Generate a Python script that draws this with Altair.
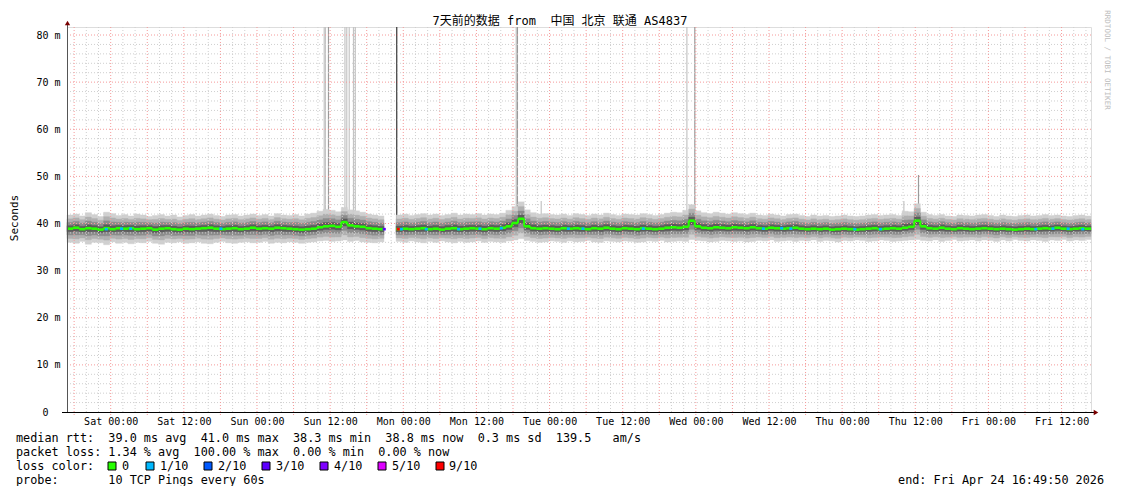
import altair as alt
import pandas as pd

# ---------------- data ----------------
START = pd.Timestamp("2026-04-17 16:49:50", tz="UTC")
END = pd.Timestamp("2026-04-24 16:49:50", tz="UTC")

# hourly median rtt (ms) from START; None = no data
median_rtt = [
    38.9, 39.1, 38.8, 39.0, 38.9, 38.7, 39.0, 38.8, 39.0, 38.9,
    39.0, 38.8, 38.9, 39.0, 38.7, 38.9, 39.0, 38.8, 38.7, 38.9,
    38.8, 38.9, 39.0, 39.1, 38.9, 38.8, 38.9, 39.0, 38.8, 38.9,
    39.1, 38.9, 39.0, 38.9, 39.1, 39.0, 38.9, 38.8, 38.7, 38.8,
    38.9, 39.2, 39.4, 39.5, 39.3, 40.3, 39.6, 39.4, 39.3, 39.0,
    38.9, 38.8, None, None, 38.8, 38.9, 38.8, 38.9, 39.0, 38.8,
    38.9, 38.7, 38.9, 39.0, 38.8, 38.9, 39.0, 38.9, 38.8, 39.0,
    38.9, 39.1, 39.4, 40.1, 41.0, 39.4, 39.0, 38.9, 39.0, 38.9,
    38.8, 39.0, 38.9, 39.0, 38.9, 38.8, 39.0, 38.9, 39.1, 38.9,
    38.8, 39.0, 38.9, 38.8, 39.0, 38.9, 38.8, 38.9, 39.1, 39.2,
    39.1, 39.3, 40.6, 39.4, 39.1, 39.0, 39.2, 39.1, 39.0, 39.2,
    39.1, 39.0, 39.2, 39.0, 38.9, 39.1, 39.0, 38.9, 39.0, 39.1,
    38.9, 38.8, 38.9, 38.8, 38.9, 38.7, 38.8, 38.9, 38.8, 38.7,
    38.8, 38.9, 39.0, 38.8, 38.9, 39.0, 38.9, 39.1, 39.3, 40.6,
    39.4, 39.0, 38.9, 39.1, 38.9, 38.8, 39.0, 38.9, 38.8, 38.9,
    39.0, 38.9, 38.8, 38.9, 38.8, 38.7, 38.8, 38.9, 38.8, 38.9,
    39.0, 38.9, 39.1, 38.9, 38.8, 38.9, 39.0, 38.9,
]

# hourly upper edge of the smoke (ms)
smoke_top = [
    41.8, 42.0, 41.6, 42.3, 41.9, 41.5, 42.4, 42.1, 41.7, 41.9,
    41.6, 42.0, 41.8, 41.5, 41.7, 41.9, 41.6, 41.8, 41.4, 41.7,
    41.9, 41.6, 41.8, 42.0, 41.7, 41.5, 41.8, 41.9, 41.6, 41.8,
    42.0, 41.7, 41.9, 41.6, 42.1, 41.8, 41.7, 41.9, 41.6, 42.0,
    42.2, 42.6, 43.0, 42.8, 42.5, 43.4, 42.9, 42.7, 42.4, 42.0,
    41.8, 41.6, None, None, 41.8, 42.0, 41.7, 41.9, 42.1, 41.8,
    42.0, 41.7, 41.9, 42.2, 41.8, 42.0, 41.9, 42.1, 41.8, 42.0,
    41.9, 42.2, 42.8, 43.6, 44.6, 42.9, 42.3, 42.0, 42.1, 41.9,
    41.8, 42.0, 41.7, 42.1, 41.9, 41.7, 42.0, 41.8, 42.2, 41.9,
    41.7, 42.0, 41.9, 41.8, 42.1, 41.9, 41.7, 41.9, 42.2, 42.4,
    42.3, 42.8, 44.0, 42.7, 42.3, 42.1, 42.4, 42.2, 42.0, 42.3,
    42.1, 41.9, 42.2, 41.8, 41.7, 42.0, 41.8, 41.6, 41.9, 42.0,
    41.7, 41.5, 41.8, 41.6, 41.7, 41.5, 41.6, 41.8, 41.6, 41.5,
    41.6, 41.8, 41.9, 41.7, 41.8, 41.9, 41.7, 42.6, 42.5, 44.2,
    42.4, 41.9, 41.7, 41.9, 41.6, 41.5, 41.8, 41.7, 41.6, 41.8,
    41.9, 41.7, 41.5, 41.8, 41.6, 41.5, 41.7, 41.8, 41.6, 41.7,
    41.9, 41.7, 41.8, 41.6, 41.5, 41.7, 41.8, 41.6,
]

# hourly lower edge of the smoke (ms)
smoke_bottom = [
    36.0, 35.8, 36.2, 35.6, 36.0, 35.9, 35.5, 36.1, 35.8, 36.0,
    35.7, 36.0, 35.9, 36.2, 35.8, 35.6, 36.0, 35.9, 36.1, 35.8,
    35.9, 36.1, 35.8, 35.7, 36.0, 36.2, 35.9, 35.8, 36.0, 36.1,
    35.9, 36.0, 36.2, 35.8, 36.0, 35.9, 36.1, 36.0, 35.8, 36.0,
    36.1, 36.3, 36.4, 36.2, 36.3, 36.5, 36.2, 36.4, 36.1, 36.0,
    35.9, 36.1, None, None, 36.2, 36.0, 36.3, 36.1, 35.9, 36.2,
    36.0, 36.3, 36.1, 35.9, 36.2, 36.0, 36.1, 36.3, 36.0, 36.2,
    36.1, 36.0, 36.3, 36.5, 36.8, 36.4, 36.2, 36.0, 36.1, 36.3,
    36.2, 36.0, 36.3, 36.1, 36.2, 36.4, 36.1, 36.0, 36.3, 36.2,
    36.1, 36.3, 36.2, 36.0, 36.1, 36.3, 36.2, 36.4, 36.1, 36.2,
    36.3, 36.2, 36.6, 36.4, 36.3, 36.1, 36.2, 36.4, 36.3, 36.2,
    36.3, 36.1, 36.2, 36.4, 36.3, 36.5, 36.2, 36.3, 36.4, 36.2,
    36.4, 36.3, 36.5, 36.2, 36.4, 36.3, 36.1, 36.4, 36.3, 36.5,
    36.4, 36.2, 36.3, 36.5, 36.4, 36.2, 36.3, 36.4, 36.5, 36.6,
    36.4, 36.3, 36.5, 36.2, 36.4, 36.6, 36.3, 36.4, 36.5, 36.3,
    36.5, 36.4, 36.2, 36.5, 36.3, 36.6, 36.4, 36.3, 36.5, 36.4,
    36.2, 36.5, 36.4, 36.6, 36.3, 36.5, 36.4, 36.6,
]

# isolated outliers (hours from START, top in ms, shade category)
spike_hours = [42.2, 42.4, 42.9, 45.6, 45.9, 46.3, 47.0, 47.3, 54.1,
               73.7, 73.9, 77.8, 101.7, 103.0, 137.3, 139.7]
spike_tops = [81.7, 81.7, 81.7, 81.7, 81.7, 81.7, 81.7, 81.7, 81.7,
              81.7, 81.7, 44.8, 81.7, 81.7, 44.8, 50.3]
spike_kind = ["light", "light", "dark", "light", "light", "light", "light", "light", "edge",
              "light", "dark", "light", "light", "dark", "light", "dark"]

# median points coloured by packet loss
loss_hours = [6.2, 8.7, 10.2, 25.0, 51.8, 54.1, 54.6, 58.7, 64.0, 67.5, 71.0, 82.0,
              84.4, 94.3, 114.0, 117.0, 118.5, 129.0, 133.2, 158.7, 161.5, 164.0, 166.4]
loss_rtt = [38.8, 38.9, 38.9, 38.9, 38.8, 38.8, 38.8, 38.8, 38.8, 38.9, 39.0, 38.9,
            38.9, 38.9, 38.9, 39.0, 38.9, 38.8, 38.8, 38.8, 38.9, 38.9, 38.8]
loss_level = ["1/10", "1/10", "1/10", "1/10", "3/10", "9/10", "1/10", "1/10", "1/10", "1/10",
              "1/10", "1/10", "1/10", "1/10", "1/10", "1/10", "1/10", "1/10", "1/10", "1/10",
              "1/10", "1/10", "1/10"]

loss_names = ["0", "1/10", "2/10", "3/10", "4/10", "5/10", "9/10"]
loss_colors = ["#26ff00", "#00b8ff", "#0059ff", "#5e00ff", "#7e00ff", "#dd00ff", "#ff0000"]

y_ticks = [0, 10, 20, 30, 40, 50, 60, 70, 80]
x_tick_times = ["2026-04-18 00:00", "2026-04-18 12:00", "2026-04-19 00:00", "2026-04-19 12:00",
                "2026-04-20 00:00", "2026-04-20 12:00", "2026-04-21 00:00", "2026-04-21 12:00",
                "2026-04-22 00:00", "2026-04-22 12:00", "2026-04-23 00:00", "2026-04-23 12:00",
                "2026-04-24 00:00", "2026-04-24 12:00"]

title_text = "7天前的数据 from  中国 北京 联通 AS4837"
legend_lines = [
    "median rtt:  39.0 ms avg  41.0 ms max  38.3 ms min  38.8 ms now  0.3 ms sd  139.5   am/s",
    "packet loss: 1.34 % avg  100.00 % max  0.00 % min  0.00 % now",
    "loss color:",
    "probe:       10 TCP Pings every 60s",
]
end_text = "end: Fri Apr 24 16:49:50 2026"

# ---------------- layout / style ----------------
W, H = 1024, 385
MONO = "'DejaVu Sans Mono', 'Noto Sans CJK SC', monospace"
GREEN = "#26ff00"


def iso(ts):
    return ts.strftime("%Y-%m-%dT%H:%M:%SZ")


def ms(ts):
    return int(ts.timestamp() * 1000)


def nb(s):
    return s.replace(" ", "\u00a0")


HOUR = pd.Timedelta(hours=1)
XS = alt.Scale(type="utc", domain=[ms(START), ms(END)])
YS = alt.Scale(domain=[0, 81.7], nice=False, zero=False)
XAX = alt.Axis(values=[ms(pd.Timestamp(t, tz="UTC")) for t in x_tick_times],
               labelExpr="utcFormat(datum.value, '%a %H:%M')",
               labelFont=MONO, labelFontSize=10, labelColor="#000", labelPadding=4,
               ticks=False, domain=False, grid=False, labelOverlap=False, labelFlush=False,
               title=None)
YAX = alt.Axis(values=y_ticks,
               labelExpr="datum.value == 0 ? '0\u00a0\u00a0\u200b' : datum.value + '\u00a0m'",
               labelFont=MONO, labelFontSize=10, labelColor="#000", labelPadding=7,
               ticks=False, domain=False, grid=False, title=None)


def X(field):
    return alt.X(field, type="temporal", scale=XS, axis=XAX)


def Y(field):
    return alt.Y(field, type="quantitative", scale=YS, axis=YAX)


# smoke layers (outer light -> inner dark)
fractions = [1.0, 0.72, 0.46, 0.22]
shade_colors = ["#d0d0d0", "#b0b0b0", "#8c8c8c", "#5c5c5c"]
smoke_layers = []
for f, col in zip(fractions, shade_colors):
    rows = []
    for i, m in enumerate(median_rtt):
        if m is None:
            continue
        t0 = START + i * HOUR
        rows.append({"t": iso(t0), "t2": iso(t0 + HOUR),
                     "lo": m - (m - smoke_bottom[i]) * f, "hi": m + (smoke_top[i] - m) * f})
    smoke_layers.append(alt.Chart(pd.DataFrame(rows)).mark_rect(
        color=col, stroke=col, strokeWidth=0.4).encode(
        x=X("t"), x2="t2", y=Y("lo"), y2="hi"))

# spikes
spike_df = pd.DataFrame({
    "t": [iso(START + pd.Timedelta(hours=h)) for h in spike_hours],
    "top": spike_tops, "kind": spike_kind, "base": [39.0] * len(spike_hours)})
spike_col = {"light": "#c4c4c4", "dark": "#9a9a9a", "edge": "#333333"}
spike_layers = []
for kind, col in spike_col.items():
    d = spike_df[spike_df["kind"] == kind]
    spike_layers.append(alt.Chart(d).mark_rule(color=col, strokeWidth=1.2).encode(
        x=X("t"), y=Y("base"), y2="top"))

# median segments
med_rows = []
for i, m in enumerate(median_rtt):
    if m is None:
        continue
    t0 = START + i * HOUR
    nxt = median_rtt[i + 1] if i + 1 < len(median_rtt) else None
    med_rows.append({"t": iso(t0), "t2": iso(t0 + HOUR), "med": m,
                     "next": nxt if nxt is not None else m})
med_df = pd.DataFrame(med_rows)
med_h = alt.Chart(med_df).mark_rule(color=GREEN, strokeWidth=2.6).encode(
    x=X("t"), x2="t2", y=Y("med"))
med_v = alt.Chart(med_df).mark_rule(color=GREEN, strokeWidth=2).encode(
    x=X("t2"), y=Y("med"), y2="next")

# loss-coloured points
loss_df = pd.DataFrame({
    "t": [iso(START + pd.Timedelta(hours=h)) for h in loss_hours],
    "t2": [iso(START + pd.Timedelta(hours=h + 0.5)) for h in loss_hours],
    "rtt": loss_rtt, "level": loss_level})
loss_layers = []
for name, col in zip(loss_names, loss_colors):
    d = loss_df[loss_df["level"] == name]
    if len(d) == 0:
        continue
    loss_layers.append(alt.Chart(d).mark_rule(color=col, strokeWidth=2.6).encode(
        x=X("t"), x2="t2", y=Y("rtt")))

# grid
grid_times = pd.date_range(START.ceil("2h"), END, freq="2h")
gx_minor = pd.DataFrame({"t": [iso(t) for t in grid_times if t.hour % 6 != 0]})
gx_major = pd.DataFrame({"t": [iso(t) for t in grid_times if t.hour % 6 == 0]})
gy_minor = pd.DataFrame({"v": [v for v in range(2, 82, 2) if v % 10 != 0]})
gy_major = pd.DataFrame({"v": [v for v in range(10, 82, 10)]})

MINOR = "#cfcfcf"
MAJOR = "#f59a9a"
grid_minor_x = alt.Chart(gx_minor).mark_rule(color=MINOR, strokeDash=[1, 2], strokeWidth=1).encode(
    x=X("t"), y=alt.value(0), y2=alt.value(H))
grid_major_x = alt.Chart(gx_major).mark_rule(color=MAJOR, strokeDash=[1, 2], strokeWidth=1).encode(
    x=X("t"), y=alt.value(0), y2=alt.value(H + 3))
grid_minor_y = alt.Chart(gy_minor).mark_rule(color=MINOR, strokeDash=[1, 2], strokeWidth=1).encode(
    y=Y("v"), x=alt.value(0), x2=alt.value(W + 1))
grid_major_y = alt.Chart(gy_major).mark_rule(color=MAJOR, strokeDash=[1, 2], strokeWidth=1).encode(
    y=Y("v"), x=alt.value(0), x2=alt.value(W + 1))

one = alt.Data(values=[{"k": 0}])
x_axis_line = alt.Chart(one).mark_rule(color="#000", strokeWidth=1).encode(
    x=alt.value(-5), x2=alt.value(W + 4), y=alt.value(H + 0.5))
y_axis_line = alt.Chart(one).mark_rule(color="#555", strokeWidth=1).encode(
    x=alt.value(0.5), y=alt.value(-3), y2=alt.value(H))
arrow_up = alt.Chart(one).mark_point(shape="triangle-up", filled=True, size=28, color="#7a0000", opacity=1).encode(
    x=alt.value(0.5), y=alt.value(-4))
arrow_right = alt.Chart(one).mark_point(shape="triangle-right", filled=True, size=28, color="#7a0000", opacity=1).encode(
    x=alt.value(W + 5), y=alt.value(H + 0.5))


def txt(s, x, y, size=11.8, align="left", color="#000", angle=None):
    kw = dict(text=nb(s), align=align, baseline="middle", fontSize=size, font=MONO, color=color)
    if angle is not None:
        kw["angle"] = angle
    return alt.Chart(one).mark_text(**kw).encode(x=alt.value(x), y=alt.value(y))


texts = [
    txt(title_text, 493, -6, size=12, align="center"),
    txt("Seconds", -52, 191, size=11, align="center", angle=270),
    txt("RRDTOOL / TOBI OETIKER", 1040, 33, size=7.5, align="center", color="#bdbdbd", angle=90),
    txt(legend_lines[0], -51, 411),
    txt(legend_lines[1], -51, 425),
    txt(legend_lines[2], -51, 439),
    txt(legend_lines[3], -51, 453),
    txt(end_text, 1037, 453, align="right"),
]

swatch_x = [41, 79, 137, 195, 253, 311, 369]
label_x = [55, 93, 151, 209, 267, 325, 382]
swatches = []
for name, col, sx, lx in zip(loss_names, loss_colors, swatch_x, label_x):
    swatches.append(alt.Chart(one).mark_rect(color=col, stroke="#000", strokeWidth=1).encode(
        x=alt.value(sx), x2=alt.value(sx + 8), y=alt.value(435), y2=alt.value(443)))
    swatches.append(txt(name, lx, 439))

chart = alt.layer(
    *spike_layers, *smoke_layers,
    grid_minor_x, grid_minor_y, grid_major_x, grid_major_y,
    med_h, med_v, *loss_layers,
    x_axis_line, y_axis_line, arrow_up, arrow_right,
    *texts, *swatches,
).properties(
    width=W, height=H,
    autosize=alt.AutoSizeParams(type="none"),
    padding={"left": 59, "top": 19, "right": 22, "bottom": 74},
).configure_view(stroke=None).configure(background="white")

chart.save("out.html", embed_options={"renderer": "svg", "actions": False})
